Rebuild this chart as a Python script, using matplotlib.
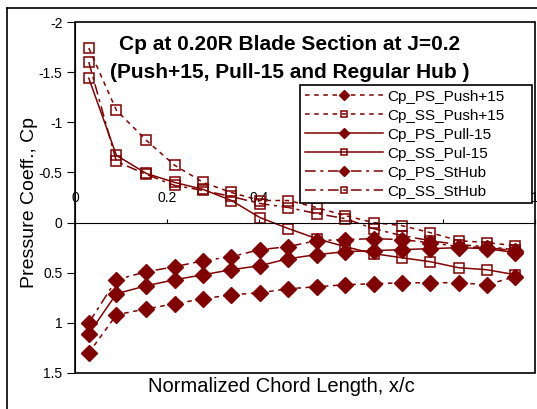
import matplotlib
matplotlib.use("Agg")
import matplotlib.pyplot as plt
from matplotlib.lines import Line2D

plt.rcParams["font.family"] = ["Liberation Sans", "DejaVu Sans"]

# chord stations
x = [0.03, 0.09, 0.155, 0.217, 0.279, 0.34, 0.402, 0.464, 0.525, 0.587, 0.649, 0.71, 0.772, 0.834, 0.895, 0.957]

ps_push = [1.30, 0.92, 0.86, 0.81, 0.76, 0.72, 0.70, 0.66, 0.64, 0.62, 0.61, 0.60, 0.60, 0.60, 0.62, 0.54]
ss_push = [-1.74, -1.12, -0.82, -0.57, -0.40, -0.30, -0.22, -0.22, -0.15, -0.07, 0.00, 0.03, 0.10, 0.18, 0.20, 0.23]
ps_pull = [1.11, 0.71, 0.63, 0.57, 0.52, 0.47, 0.43, 0.36, 0.32, 0.29, 0.28, 0.27, 0.26, 0.25, 0.26, 0.30]
ss_pull = [-1.44, -0.67, -0.49, -0.40, -0.33, -0.22, -0.05, 0.06, 0.16, 0.24, 0.31, 0.35, 0.39, 0.45, 0.47, 0.52]
ps_hub = [1.00, 0.57, 0.49, 0.44, 0.38, 0.34, 0.27, 0.24, 0.18, 0.17, 0.16, 0.17, 0.20, 0.24, 0.25, 0.28]
ss_hub = [-1.60, -0.61, -0.48, -0.37, -0.32, -0.26, -0.19, -0.15, -0.09, -0.04, 0.06, 0.13, 0.18, 0.22, 0.24, 0.27]

labels = ["Cp_PS_Push+15", "Cp_SS_Push+15", "Cp_PS_Pull-15", "Cp_SS_Pul-15", "Cp_PS_StHub", "Cp_SS_StHub"]
yticks = [-2, -1.5, -1, -0.5, 0, 0.5, 1, 1.5]
xticks = [0, 0.2, 0.4, 0.6, 0.8, 1]

red = "#800000"
dot = (0, (3, 3))
dashdot = (0, (7, 3, 2, 3))

fig = plt.figure(figsize=(5.37, 4.09), dpi=100)
ax = fig.add_axes([75 / 537, 1 - 373 / 409, 460 / 537, 351 / 409])
ax.set_axisbelow(True)

series = [
    (ps_push, dot, "D"),
    (ss_push, dot, "s"),
    (ps_pull, "-", "D"),
    (ss_pull, "-", "s"),
    (ps_hub, dashdot, "D"),
    (ss_hub, dashdot, "s"),
]
for (y, ls, mk), lab in zip(series, labels):
    if mk == "D":
        ax.plot(x, y, color=red, linestyle=ls, lw=1.1, marker="D", ms=8,
                mfc=red, mec=red, label=lab)
    else:
        ax.plot(x, y, color=red, linestyle=ls, lw=1.1, marker="s", ms=6.5,
                mfc="none", mec=red, mew=1.1, label=lab)

ax.set_xlim(0, 1)
ax.set_ylim(1.5, -2)
ax.set_yticks(yticks)
ax.set_yticklabels(["-2", "-1.5", "-1", "-0.5", "0", "0.5", "1", "1.5"])
ax.set_xticks(xticks)
ax.set_xticklabels(["0", "0.2", "0.4", "0.6", "0.8", "1"])

# x axis crosses at Cp = 0, labels sit above it
ax.xaxis.set_ticks_position("top")
ax.spines["top"].set_position(("data", 0))
ax.spines["bottom"].set_visible(False)
ax.spines["right"].set_visible(False)
ax.add_patch(plt.Rectangle((0, 0), 1, 1, transform=ax.transAxes, fill=False,
                           ec="black", lw=1.2, clip_on=False, zorder=5))
ax.tick_params(axis="x", direction="out", length=3, pad=10, labelsize=10)
ax.tick_params(axis="y", direction="out", length=6, pad=3, labelsize=10)

fig.text(281 / 537, 1 - 386 / 409, "Normalized Chord Length, x/c",
         ha="center", va="center", fontsize=14.5)
fig.text(30 / 537, 1 - 203 / 409, "Pressure Coeff., Cp",
         ha="center", va="center", rotation=90, fontsize=14)

fig.text(290 / 537, 1 - 44 / 409, "Cp at 0.20R Blade Section at J=0.2",
         ha="center", va="center", fontsize=15, fontweight="bold")
fig.text(290 / 537, 1 - 72 / 409, "(Push+15, Pull-15 and Regular Hub )",
         ha="center", va="center", fontsize=15, fontweight="bold")

lx0 = (300 - 75) / 460
ly1 = (373 - 85) / 351
leg = ax.legend(loc="upper left", bbox_to_anchor=(lx0, ly1 - 118 / 351, 232 / 460, 118 / 351),
                mode="expand", fontsize=11, handlelength=5.1, handletextpad=0.3,
                labelspacing=0.33, borderpad=0.3, borderaxespad=0, fancybox=False,
                framealpha=1, edgecolor="black")
leg.get_frame().set_linewidth(1.2)
leg.set_zorder(10)
for h in leg.legend_handles:
    h.set_markersize(5)

# outer chart border
fig.add_artist(Line2D([7 / 537, 7 / 537], [0, 1 - 8 / 409], color="black", lw=1.2))
fig.add_artist(Line2D([7 / 537, 1], [1 - 8 / 409, 1 - 8 / 409], color="black", lw=1.2))

fig.savefig("out.png", dpi=100)
